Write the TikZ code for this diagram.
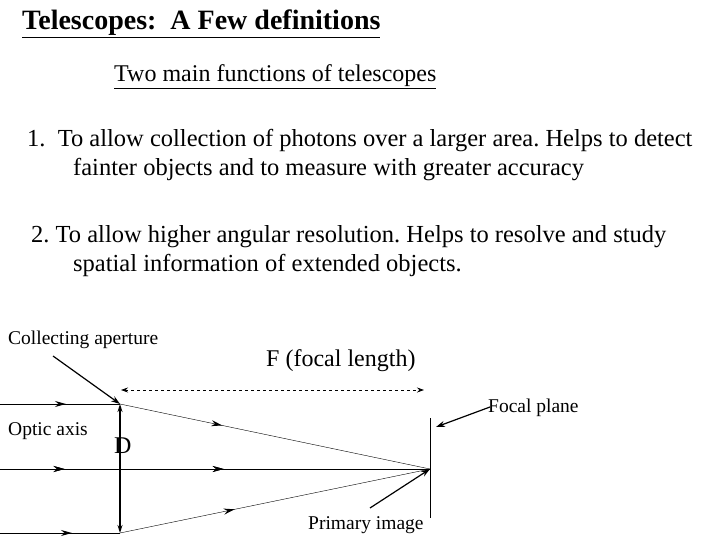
\documentclass[tikz,border=0pt]{standalone}
\usepackage{fontspec}
\setmainfont{Liberation Serif}
\frenchspacing
\usetikzlibrary{decorations.markings,arrows.meta}
\begin{document}
\begin{tikzpicture}[x=1pt,y=-1pt,
  ray/.style={thin},
  mk/.style={postaction={decorate},decoration={markings,mark=at position #1 with {\arrow[line width=1.2pt]{Stealth[length=11pt,width=6pt]}}}},
  ptr/.style={line width=1.2pt,-{Stealth[length=9pt,width=6pt]}},
  lbl/.style={inner sep=0pt,anchor=west,font=\fontsize{19.5}{21}\selectfont},
  body/.style={inner sep=0pt,anchor=north west,align=left,font=\fontsize{24.5}{29}\selectfont}]
\useasboundingbox (0,0) rectangle (720,540);
\node[inner sep=0pt,anchor=west,font=\fontsize{28}{30}\selectfont\bfseries] (title) at (22,24) {\underline{Telescopes:\ \ A Few definitions}};
\node[inner sep=0pt,anchor=west,font=\fontsize{24}{26}\selectfont] (sub) at (114,77) {\underline{Two main functions of telescopes}};
\node[body] (p1) at (27,129) {1.\ \ To allow collection of photons over a larger area. Helps to detect\\\hspace*{46pt}fainter objects and to measure with greater accuracy};
\node[body] (p2) at (31,225) {2. To allow higher angular resolution. Helps to resolve and study\\\hspace*{42pt}spatial information of extended objects.};
\coordinate (lt) at (120,404);
\coordinate (lb) at (120,533);
\coordinate (fp) at (430,469);
\coordinate (lt0) at (0,404);
\coordinate (lm0) at (0,469);
\coordinate (lb0) at (0,533);
\draw[ray,mk=0.55] (lt0) -- (lt);
\draw[ray,mk=0.6] (lb0) -- (lb);
\draw[ray,mk=0.15,mk=0.52] (lm0) -- (fp);
\draw[ray,mk=0.33] (lt) -- (fp);
\draw[ray,mk=0.37] (lb) -- (fp);
\draw[line width=1.2pt,{Stealth[length=8pt,width=5pt]}-{Stealth[length=8pt,width=5pt]}] (lt) -- (lb);
\coordinate (pt) at (430,418);
\coordinate (pb) at (430,518);
\draw (pt) -- (pb);
\coordinate (da) at (121,390);
\coordinate (db) at (424,390);
\draw[thick,dashed,{Stealth[length=7pt,width=5pt]}-{Stealth[length=7pt,width=5pt]}] (da) -- (db);
\node[lbl] (ca) at (8,340) {Collecting aperture};
\node[lbl,font=\fontsize{24}{26}\selectfont] (fl) at (266,361) {F (focal length)};
\node[lbl] (fpl) at (488,408) {Focal plane};
\node[lbl] (oa) at (8,431) {Optic axis};
\node[lbl,font=\fontsize{24}{26}\selectfont] (D) at (114,446) {D};
\node[lbl] (pi) at (308,525) {Primary image};
\coordinate (cas) at (53,356);
\draw[ptr] (cas) -- (lt);
\coordinate (fps) at (490,407);
\coordinate (fpe) at (436,427);
\draw[ptr] (fps) -- (fpe);
\coordinate (pis) at (370,508);
\draw[ptr] (pis) -- (fp);
\end{tikzpicture}
\end{document}
